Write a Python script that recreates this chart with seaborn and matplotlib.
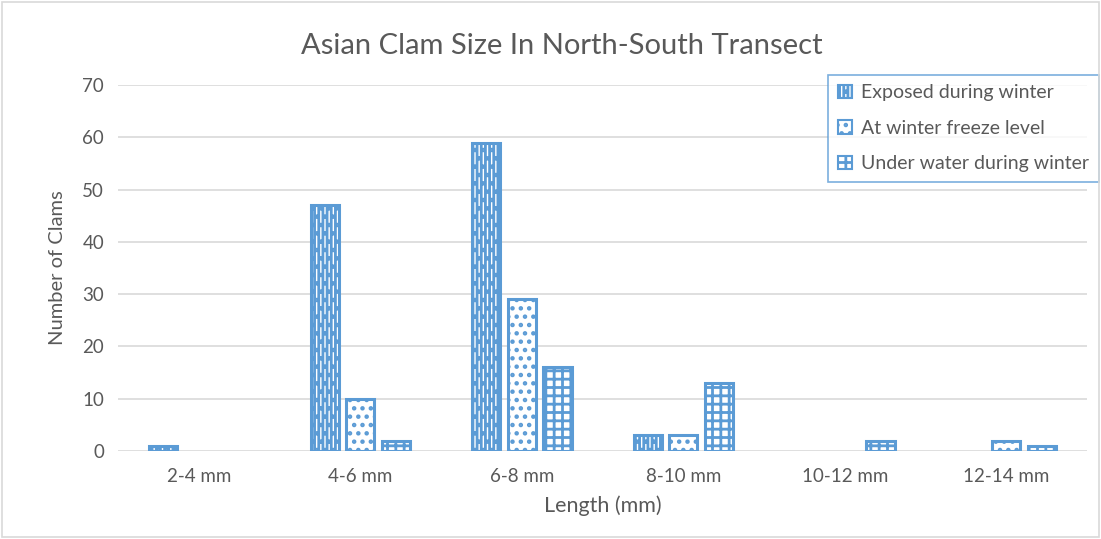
import matplotlib
matplotlib.use("Agg")
import matplotlib.pyplot as plt
import seaborn as sns
import pandas as pd
from matplotlib.patches import Rectangle, Patch

# Clam counts per length class
categories = ["2-4 mm", "4-6 mm", "6-8 mm", "8-10 mm", "10-12 mm", "12-14 mm"]
exposed = [1, 47, 59, 3, 0, 0]
freeze_level = [0, 10, 29, 3, 0, 2]
under_water = [0, 2, 16, 13, 2, 1]
series_names = ["Exposed during winter", "At winter freeze level", "Under water during winter"]

df = pd.DataFrame({
    "Length": categories * 3,
    "Count": exposed + freeze_level + under_water,
    "Group": [series_names[0]] * 6 + [series_names[1]] * 6 + [series_names[2]] * 6,
})

sns.set_theme(style="white")
plt.rcParams["font.family"] = ["Lato", "DejaVu Sans"]
plt.rcParams["hatch.linewidth"] = 2.0

blue = "#5B9BD5"
text_gray = "#595959"
hatches = ["||||..", "..", "++"]

fig = plt.figure(figsize=(11.01, 5.39), dpi=100)
ax = fig.add_axes([0.1072, 0.1633, 0.8801, 0.679])

sns.barplot(data=df, x="Length", y="Count", hue="Group", order=categories,
            hue_order=series_names, ax=ax, width=0.66, gap=0.2,
            palette=["white"] * 3, edgecolor=blue, linewidth=2.2,
            saturation=1, legend=False)

for container, hatch in zip(ax.containers, hatches):
    for bar in container:
        bar.set_hatch(hatch)
        bar.set_edgecolor(blue)
        bar.set_facecolor("white")
        if bar.get_height() == 0:
            bar.set_visible(False)

ax.set_ylim(0, 70)
ax.set_yticks(range(0, 71, 10))
ax.yaxis.grid(True, color="#D9D9D9", linewidth=1.2)
ax.set_axisbelow(True)
for s in ax.spines.values():
    s.set_visible(False)
ax.tick_params(axis="both", length=0, labelsize=13.5, labelcolor=text_gray, pad=10)
ax.tick_params(axis="x", pad=12)

ax.set_xlabel("Length (mm)", fontsize=15.5, color=text_gray, labelpad=8)
ax.set_ylabel("Number of Clams", fontsize=14.5, color=text_gray, labelpad=12)
fig.text(0.51, 0.914, "Asian Clam Size In North-South Transect", ha="center",
         va="center", fontsize=21, color=text_gray)

handles = [Patch(facecolor="white", edgecolor=blue, hatch=h, linewidth=1.5) for h in hatches]
leg = ax.legend(handles, series_names, loc="upper right", bbox_to_anchor=(1.0125, 1.028),
                fontsize=14, frameon=True, fancybox=False, handlelength=0.7,
                handleheight=0.7, handletextpad=0.5, labelspacing=0.95,
                borderpad=0.5, borderaxespad=0, labelcolor=text_gray)
leg.get_frame().set_edgecolor(blue)
leg.get_frame().set_linewidth(1.2)

fig.patches.append(Rectangle((0.002, 0.004), 0.996, 0.992, transform=fig.transFigure,
                             fill=False, edgecolor="#D9D9D9", linewidth=1.2))

fig.savefig("out.png", dpi=100)
